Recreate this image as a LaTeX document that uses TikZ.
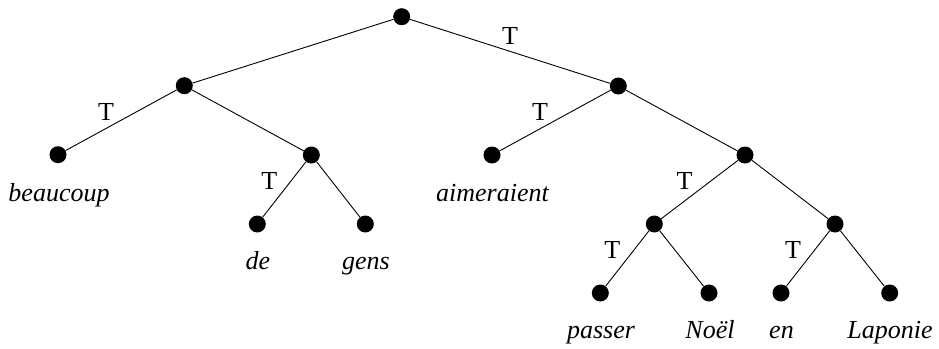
\documentclass[tikz,border=0pt]{standalone}
\usepackage{fontspec}
\setmainfont{Liberation Serif}
\begin{document}
\begin{tikzpicture}[x=1pt,y=-1pt,
  dot/.style={circle,fill=black,inner sep=0pt,minimum size=17pt},
  word/.style={anchor=base,inner sep=0pt,font=\fontsize{26}{30}\selectfont\itshape},
  tlab/.style={midway,anchor=base,inner sep=0pt,xshift=-15pt,font=\fontsize{26}{30}\selectfont},
  edge/.style={line width=0.9pt}]
\useasboundingbox (0,0) rectangle (939,348);
% nodes
\node[dot] (r) at (401.7,16.7) {};
\node[dot] (a) at (184.3,85.7) {};
\node[dot] (b) at (618.3,86) {};
\node[dot] (beau) at (58,154.7) {};
\node[dot] (c) at (311.3,155) {};
\node[dot] (aim) at (492,155) {};
\node[dot] (d) at (745,155) {};
\node[dot] (de) at (257.3,224) {};
\node[dot] (gens) at (365.3,224) {};
\node[dot] (e) at (654.3,224) {};
\node[dot] (f) at (835,224) {};
\node[dot] (pas) at (600.3,293) {};
\node[dot] (noel) at (709,293) {};
\node[dot] (en) at (781,293) {};
\node[dot] (lap) at (889.7,293) {};
% words
\node[word] (wbeau) at (59,201) {beaucoup};
\node[word] (wde) at (258,269.5) {de};
\node[word] (wgens) at (366,269.5) {gens};
\node[word] (waim) at (492.5,201) {aimeraient};
\node[word] (wpas) at (601,338) {passer};
\node[word] (wnoel) at (710,338) {Noël};
\node[word] (wen) at (781.5,338) {en};
\node[word] (wlap) at (890,338) {Laponie};
% edges
\draw[edge] (r) -- (a);
\draw[edge] (r) -- node[tlab,xshift=15pt,yshift=7pt] (t1) {T} (b);
\draw[edge] (a) -- node[tlab] (t2) {T} (beau);
\draw[edge] (a) -- (c);
\draw[edge] (c) -- node[tlab] (t3) {T} (de);
\draw[edge] (c) -- (gens);
\draw[edge] (b) -- node[tlab] (t4) {T} (aim);
\draw[edge] (b) -- (d);
\draw[edge] (d) -- node[tlab] (t5) {T} (e);
\draw[edge] (d) -- (f);
\draw[edge] (e) -- node[tlab] (t6) {T} (pas);
\draw[edge] (e) -- (noel);
\draw[edge] (f) -- node[tlab] (t7) {T} (en);
\draw[edge] (f) -- (lap);
\end{tikzpicture}
\end{document}
